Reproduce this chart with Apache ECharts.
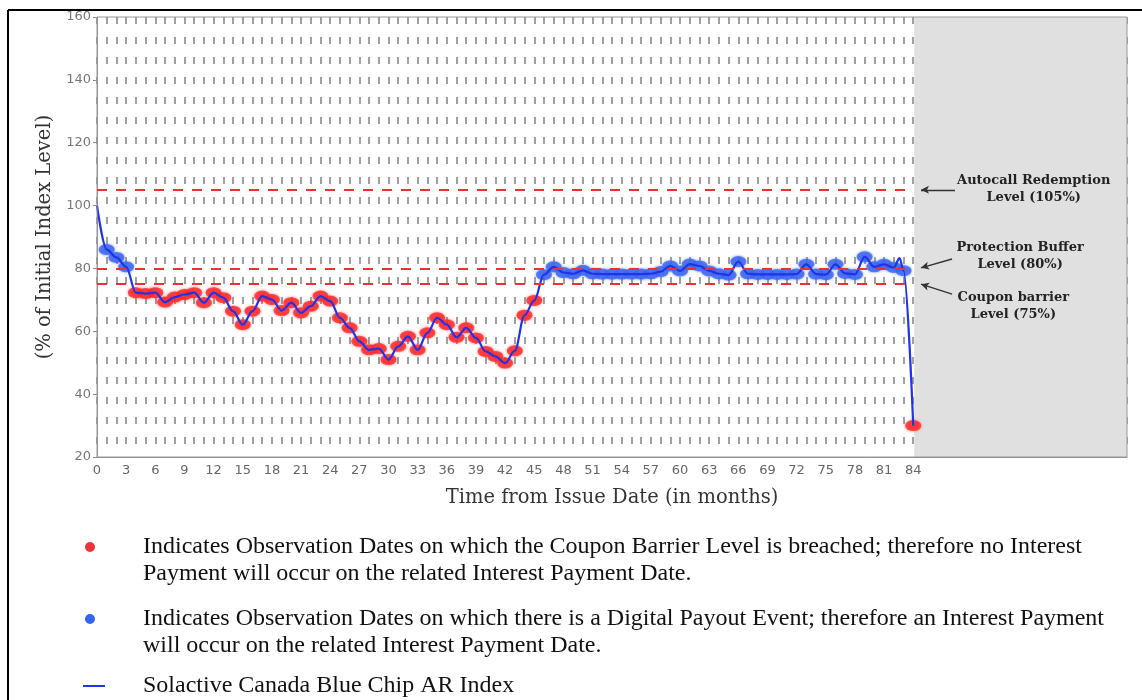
<!DOCTYPE html>
<html><head><meta charset="utf-8">
<script src="https://cdn.jsdelivr.net/npm/echarts@6/dist/echarts.min.js"></script>
<style>html,body{margin:0;padding:0;background:#fff}#c{width:1142px;height:700px}</style>
</head><body><div id="c"></div>
<script>
// ---- data ----
const indexValues = [
  100, 86, 83.5, 80.5, 72.3, 72, 72.3, 69.3, 70.9, 71.7,
  72.3, 69.1, 72.3, 70.7, 66.4, 62.1, 66.4, 71.2, 70.1, 66.6,
  69.1, 65.9, 68, 71.2, 69.6, 64.3, 61.1, 56.8, 54.1, 54.5,
  51, 55.2, 58.4, 54.1, 59.5, 64.3, 62.1, 58.1, 61.1, 57.9,
  53.6, 52, 49.9, 53.8, 65.1, 69.8, 78, 80.5, 78.7, 78.3,
  79.4, 78.3, 78.2, 78.2, 78.2, 78.2, 78.2, 78.3, 79, 80.8,
  79.2, 81.4, 80.8, 79.2, 78.3, 77.9, 82.2, 78.3, 78.1, 78.1,
  78.1, 78.1, 78.2, 81.3, 78.2, 78, 81.3, 78.4, 78.1, 83.7,
  80.5, 81.3, 80.3, 79.3, 30
];
const months = indexValues.map((v, i) => i);          // 0 .. 84
const extraLineMonths = [82.6];                         // intra-month spike on the index line
const extraLineValues = [83.3];
const couponBarrier = 75;
const levelValues = [105, 80, 75];
const levelLabels = ['Autocall Redemption\nLevel (105%)', 'Protection Buffer\nLevel (80%)', 'Coupon barrier\nLevel (75%)'];
const lastObservationMonth = 84;
const xTickStep = 3;
const legendTexts = [
  'Indicates Observation Dates on which the Coupon Barrier Level is breached; therefore no Interest\nPayment will occur on the related Interest Payment Date.',
  'Indicates Observation Dates on which there is a Digital Payout Event; therefore an Interest Payment\nwill occur on the related Interest Payment Date.',
  'Solactive Canada Blue Chip AR Index'
];

// ---- build ----
let lineData = months.map((m, i) => [m, indexValues[i]]);
extraLineMonths.forEach((m, i) => lineData.push([m, extraLineValues[i]]));
lineData.sort((a, b) => a[0] - b[0]);
const obs = months.slice(1).map(m => [m, indexValues[m]]);
const redPts = obs.filter(p => p[1] < couponBarrier);
const bluePts = obs.filter(p => p[1] >= couponBarrier);

const chart = echarts.init(document.getElementById('c'), null, {renderer: 'canvas'});
const serifFont = 'DejaVu Serif';
const legendFont = '24px "Liberation Serif"';
const option = {
  animation: false,
  grid: {left: 97, right: 15, top: 17, bottom: 243, show: true, borderColor: '#9a9a9a', borderWidth: 1, backgroundColor: 'transparent', z: 5},
  xAxis: {
    type: 'value', min: 0, max: 106, interval: 1,
    name: 'Time from Issue Date (in months)', nameLocation: 'middle', nameGap: 31,
    nameTextStyle: {fontFamily: serifFont, fontSize: 19.5, color: '#333'},
    axisLine: {lineStyle: {color: '#8a8a8a'}},
    axisTick: {show: false},
    axisLabel: {margin: 7, fontFamily: 'DejaVu Sans', fontSize: 13, color: '#666',
      formatter: v => (v % xTickStep === 0 && v <= lastObservationMonth) ? String(v) : ''},
    splitLine: {show: true, lineStyle: {color: '#a0a0a0', width: 2, type: [7, 13]}}
  },
  yAxis: {
    type: 'value', min: 20, max: 160, interval: 20,
    name: '(% of Initial Index Level)', nameLocation: 'middle', nameGap: 41,
    nameTextStyle: {fontFamily: serifFont, fontSize: 19.5, color: '#333'},
    axisLine: {show: true, lineStyle: {color: '#8a8a8a'}},
    axisTick: {show: true, length: 4, lineStyle: {color: '#8a8a8a'}},
    axisLabel: {margin: 6, fontFamily: 'DejaVu Sans', fontSize: 13, color: '#777'},
    splitLine: {show: false}
  },
  series: [
    { // grey region after maturity + level lines
      type: 'line', data: [[106, 160]], symbol: 'none', silent: true, z: 1,
      markArea: {silent: true, itemStyle: {color: '#e0e0e0'},
        data: [[{coord: [lastObservationMonth + 0.1, 20]}, {coord: [106, 160]}]]},
      markLine: {silent: true, symbol: 'none', label: {show: false},
        lineStyle: {color: '#ee3030', width: 2, type: [10, 9]},
        emphasis: {disabled: true},
        data: levelValues.map(v => [{coord: [0, v]}, {coord: [lastObservationMonth, v]}])}
    },
    { // annotations
      type: 'line', data: [[106, 160]], symbol: 'none', silent: true, z: 6,
      markLine: {silent: true, symbol: ['none', 'arrow'], symbolSize: [6, 8], label: {show: false},
        lineStyle: {color: '#333', width: 1.3, type: 'solid'},
        emphasis: {disabled: true},
        data: [
          [{coord: [88.3, 105]}, {coord: [84.8, 105]}],
          [{coord: [88.0, 83.0]}, {coord: [84.8, 80.2]}],
          [{coord: [88.0, 71.8]}, {coord: [84.8, 75.0]}]
        ]},
      markPoint: {silent: true, symbol: 'rect', symbolSize: 1, itemStyle: {color: 'rgba(0,0,0,0)'},
        label: {show: true, position: 'inside', align: 'center', verticalAlign: 'middle',
          fontFamily: serifFont, fontWeight: 'bold', fontSize: 13, lineHeight: 17, color: '#222',
          formatter: p => p.name},
        data: [
          {name: levelLabels[0], coord: [96.4, 105.1]},
          {name: levelLabels[1], coord: [95.0, 83.8]},
          {name: levelLabels[2], coord: [94.3, 68.0]}
        ]}
    },
    {
      name: 'breached', type: 'scatter', data: redPts, symbol: 'circle', symbolSize: [16, 11],
      itemStyle: {color: '#ff2b2b', shadowBlur: 3, shadowColor: 'rgba(255,43,43,0.8)'}, z: 3, silent: true
    },
    {
      name: 'digital', type: 'scatter', data: bluePts, symbol: 'circle', symbolSize: [16, 11],
      itemStyle: {color: '#3d66f0', shadowBlur: 3, shadowColor: 'rgba(61,102,240,0.8)'}, z: 3, silent: true
    },
    {
      name: legendTexts[2], type: 'line', data: lineData, showSymbol: false, smooth: 0.35, smoothMonotone: 'x',
      lineStyle: {color: '#1f33e8', width: 2.2}, z: 4, silent: true
    }
  ],
  graphic: [
    {type: 'line', shape: {x1: 8, y1: 10, x2: 1142, y2: 10}, style: {stroke: '#000', lineWidth: 2}},
    {type: 'line', shape: {x1: 8, y1: 10, x2: 8, y2: 700}, style: {stroke: '#000', lineWidth: 2}},
    {type: 'circle', shape: {cx: 90, cy: 547, r: 5}, style: {fill: '#f03434'}},
    {type: 'text', x: 143, y: 533, style: {text: legendTexts[0], font: legendFont, fill: '#111', lineHeight: 27, verticalAlign: 'top'}},
    {type: 'circle', shape: {cx: 90, cy: 619, r: 5}, style: {fill: '#3366ee'}},
    {type: 'text', x: 143, y: 605, style: {text: legendTexts[1], font: legendFont, fill: '#111', lineHeight: 27, verticalAlign: 'top'}},
    {type: 'line', shape: {x1: 83, y1: 686, x2: 105, y2: 686}, style: {stroke: '#1f33e8', lineWidth: 2}},
    {type: 'text', x: 143, y: 672, style: {text: legendTexts[2], font: legendFont, fill: '#111', lineHeight: 27, verticalAlign: 'top'}}
  ]
};
chart.setOption(option);
</script>
</body></html>
